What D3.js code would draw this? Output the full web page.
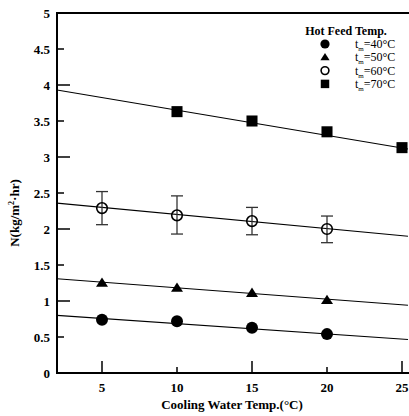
<!DOCTYPE html>
<html>
<head>
<meta charset="utf-8">
<script src="https://cdn.jsdelivr.net/npm/d3@7"></script>
<style>
  body { margin: 0; background: #fff; }
  text { font-family: "Liberation Serif", "Times New Roman", serif; }
</style>
</head>
<body>
<div id="chart"></div>
<script>
const width = 409, height = 416;

// data
const coolTemps = [5, 10, 15, 20, 25];
const seriesNames = ["40", "50", "60", "70"];
const flux40 = [0.74, 0.72, 0.63, 0.54, null];
const flux50 = [1.25, 1.18, 1.11, 1.01, null];
const flux60 = [2.29, 2.19, 2.11, 2.00, null];
const flux70 = [null, 3.63, 3.50, 3.35, 3.13];
const err60Low = [2.06, 1.93, 1.92, 1.81];
const err60High = [2.52, 2.46, 2.30, 2.18];
// fitted lines: value at x = 2 and slope
const fitIntercept = [0.80, 1.31, 2.36, 3.93];
const fitSlope = [-0.0143, -0.0158, -0.0197, -0.0350];
const yTicks = [0, 0.5, 1, 1.5, 2, 2.5, 3, 3.5, 4, 4.5, 5];
const xTicks = [5, 10, 15, 20, 25];

const allFlux = [flux40, flux50, flux60, flux70];
const markers = ["circle", "triangle", "opencircle", "square"];

const x = d3.scaleLinear().domain([2, 25.4]).range([57, 408]);
const y = d3.scaleLinear().domain([0, 5]).range([373, 13]);

const svg = d3.select("#chart").append("svg")
    .attr("width", width)
    .attr("height", height);

// fit lines
const xMin = x.domain()[0], xMax = x.domain()[1];
seriesNames.forEach((s, i) => {
    svg.append("line")
        .attr("x1", x(xMin)).attr("y1", y(fitIntercept[i]))
        .attr("x2", x(xMax)).attr("y2", y(fitIntercept[i] + fitSlope[i] * (xMax - xMin)))
        .attr("stroke", "#000")
        .attr("stroke-width", 1.1);
});

// error bars on 60 series
const errG = svg.append("g").attr("stroke", "#333").attr("stroke-width", 1.3);
err60Low.forEach((lo, i) => {
    const cx = x(coolTemps[i]);
    errG.append("line").attr("x1", cx).attr("x2", cx).attr("y1", y(lo)).attr("y2", y(err60High[i]));
    errG.append("line").attr("x1", cx - 6).attr("x2", cx + 6).attr("y1", y(lo)).attr("y2", y(lo));
    errG.append("line").attr("x1", cx - 6).attr("x2", cx + 6).attr("y1", y(err60High[i])).attr("y2", y(err60High[i]));
});

function drawMarker(g, type, cx, cy, s) {
    if (type === "circle") {
        g.append("circle").attr("cx", cx).attr("cy", cy).attr("r", s).attr("fill", "#000");
    } else if (type === "opencircle") {
        g.append("circle").attr("cx", cx).attr("cy", cy).attr("r", s - 0.7)
            .attr("fill", "none").attr("stroke", "#000").attr("stroke-width", 1.6);
    } else if (type === "square") {
        const q = s * 0.92;
        g.append("rect").attr("x", cx - q).attr("y", cy - q)
            .attr("width", 2 * q).attr("height", 2 * q).attr("fill", "#000");
    } else {
        const h = s * 0.85;
        g.append("path")
            .attr("d", `M${cx},${cy - h * 1.1}L${cx + s},${cy + h * 0.75}L${cx - s},${cy + h * 0.75}Z`)
            .attr("fill", "#000");
    }
}

const pts = svg.append("g");
allFlux.forEach((vals, i) => {
    vals.forEach((v, j) => {
        if (v == null) return;
        drawMarker(pts, markers[i], x(coolTemps[j]), y(v), 6);
    });
});

// axes
svg.append("line").attr("x1", 57).attr("x2", 57).attr("y1", y(5)).attr("y2", y(0))
    .attr("stroke", "#000").attr("stroke-width", 2);
svg.append("line").attr("x1", 56).attr("x2", width).attr("y1", y(0)).attr("y2", y(0))
    .attr("stroke", "#000").attr("stroke-width", 2);
svg.append("line").attr("x1", 56).attr("x2", width).attr("y1", y(5)).attr("y2", y(5))
    .attr("stroke", "#000").attr("stroke-width", 2.2);

const yAx = svg.append("g");
yTicks.forEach(t => {
    const major = Number.isInteger(t);
    yAx.append("line").attr("x1", 57).attr("x2", 57 + (major ? 13 : 7))
        .attr("y1", y(t)).attr("y2", y(t)).attr("stroke", "#000").attr("stroke-width", 1.5);
    yAx.append("text").attr("x", 50).attr("y", y(t)).attr("dy", "0.35em")
        .attr("text-anchor", "end").attr("font-size", 13).attr("font-weight", "bold")
        .text(t);
});

const xAx = svg.append("g");
xTicks.forEach((t, i) => {
    const major = i % 2 === 0;
    xAx.append("line").attr("x1", x(t)).attr("x2", x(t))
        .attr("y1", y(0)).attr("y2", y(0) - (major ? 12 : 6)).attr("stroke", "#000").attr("stroke-width", 1.5);
    xAx.append("text").attr("x", x(t)).attr("y", 392)
        .attr("text-anchor", "middle").attr("font-size", 13).attr("font-weight", "bold")
        .text(t);
});

svg.append("text").attr("x", 232).attr("y", 409)
    .attr("text-anchor", "middle").attr("font-size", 13).attr("font-weight", "bold")
    .text("Cooling Water Temp.(°C)");

const yl = svg.append("text")
    .attr("transform", "translate(19,213) rotate(-90)")
    .attr("text-anchor", "middle").attr("font-size", 13).attr("font-weight", "bold");
yl.append("tspan").text("N(kg/m");
yl.append("tspan").attr("font-size", 8).attr("dy", -5).text("2");
yl.append("tspan").attr("dy", 5).text("·hr)");

// legend
const leg = svg.append("g");
leg.append("text").attr("x", 346).attr("y", 35).attr("text-anchor", "middle")
    .attr("font-size", 12).attr("font-weight", "bold").text("Hot Feed Temp.");
seriesNames.forEach((s, i) => {
    const ly = 44 + i * 13.3;
    drawMarker(leg, markers[i], 325, ly, 4.6);
    const t = leg.append("text").attr("x", 355).attr("y", ly + 4).attr("font-size", 12);
    t.append("tspan").text("t");
    t.append("tspan").attr("font-size", 7).attr("dy", 3).text("m");
    t.append("tspan").attr("dy", -3).text("=" + s + "°C");
});
</script>
</body>
</html>
